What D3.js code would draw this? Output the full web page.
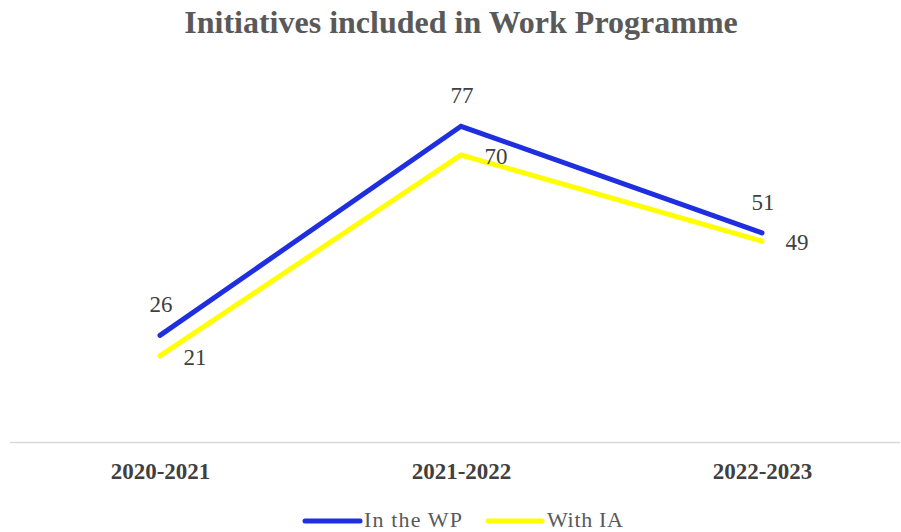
<!DOCTYPE html>
<html><head><meta charset="utf-8">
<script src="https://cdn.jsdelivr.net/npm/d3@7"></script>
<style>body{margin:0;background:#fff}</style>
</head><body>
<svg id="c" width="901" height="532"></svg>
<script>
const categories = ["2020-2021", "2021-2022", "2022-2023"];
const seriesNames = ["In the WP", "With IA"];
const inTheWP = [26, 77, 51];
const withIA = [21, 70, 49];
const colors = ["#1f2fe0", "#ffff00"];

const svg = d3.select("#c");
const FONT = "Liberation Serif, Times New Roman, serif";
const x = d3.scalePoint().domain(categories).range([160, 762]);
const y = d3.scaleLinear().domain([0, 90]).range([442, 73]);

svg.append("text").attr("x", 461).attr("y", 33).attr("text-anchor", "middle")
  .attr("font-family", FONT).attr("font-weight", "bold")
  .attr("font-size", 32).attr("fill", "#595959")
  .text("Initiatives included in Work Programme");

svg.append("line").attr("x1", 10).attr("x2", 900).attr("y1", 442.5).attr("y2", 442.5)
  .attr("stroke", "#d9d9d9").attr("stroke-width", 1.5);

const xAxis = d3.axisBottom(x).tickSize(0).tickPadding(0);
const gx = svg.append("g").attr("transform", "translate(0,479)").call(xAxis);
gx.select(".domain").remove();
gx.selectAll("text").attr("font-family", FONT)
  .attr("font-weight", "bold").attr("font-size", 23).attr("fill", "#404040").attr("dy", "0");

const data = [inTheWP, withIA];
const line = d3.line().x((d, i) => x(categories[i])).y(d => y(d));
data.forEach((s, k) => {
  svg.append("path").datum(s).attr("d", line).attr("fill", "none")
    .attr("stroke", colors[k]).attr("stroke-width", 5).attr("stroke-linecap", "round")
    .attr("stroke-linejoin", "miter");
});

// labels
inTheWP.forEach((v, i) => {
  svg.append("text").attr("x", x(categories[i]) + 1).attr("y", y(v) - 23).attr("text-anchor", "middle")
    .attr("font-family", FONT).attr("font-size", 23)
    .attr("fill", "#404040").text(v);
});
withIA.forEach((v, i) => {
  svg.append("text").attr("x", x(categories[i]) + 35).attr("y", y(v) + 9).attr("text-anchor", "middle")
    .attr("font-family", FONT).attr("font-size", 23)
    .attr("fill", "#404040").text(v);
});

// legend
const lg = [[305, 360, 364], [488, 542, 547]];
seriesNames.forEach((n, k) => {
  svg.append("line").attr("x1", lg[k][0]).attr("x2", lg[k][1]).attr("y1", 521).attr("y2", 521)
    .attr("stroke", colors[k]).attr("stroke-width", 5).attr("stroke-linecap", "round");
  svg.append("text").attr("x", lg[k][2]).attr("y", 526.5)
    .attr("font-family", FONT).attr("font-size", 22).attr("textLength", k === 0 ? 98 : 76)
    .attr("fill", "#595959").text(n);
});
</script>
</body></html>
